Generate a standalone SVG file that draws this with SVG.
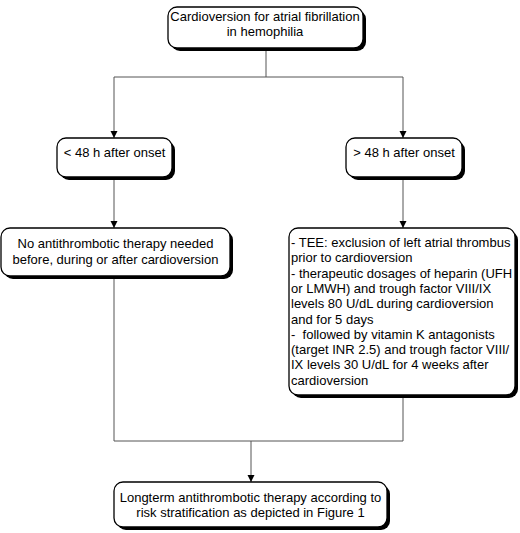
<svg xmlns="http://www.w3.org/2000/svg" width="520" height="533" viewBox="0 0 520 533">
<defs>
<style>
.box{fill:#fff;stroke:#000;stroke-width:1.3}
.sh{fill:#000}
.t{font-family:"Liberation Sans",Arial,sans-serif;font-size:13px;fill:#000}
.c{text-anchor:middle}
.ln{fill:none;stroke:#555;stroke-width:1}
</style>
<marker id="ah" markerWidth="8" markerHeight="8" refX="4" refY="7" orient="auto" markerUnits="userSpaceOnUse" viewBox="0 0 8 8">
<path d="M0.5,0 L7.5,0 L4,7 Z" fill="#000" transform="rotate(-90 4 4)"/>
</marker>
<marker id="arr" markerWidth="8" markerHeight="8" refX="7" refY="4" orient="auto" markerUnits="userSpaceOnUse" viewBox="0 0 8 8">
<path d="M0,0.5 L7,4 L0,7.5 Z" fill="#000"/>
</marker>
</defs>
<rect width="520" height="533" fill="#fff"/>
<g id="connectors">
<path class="ln" d="M266,48 V77 H114 V138" marker-end="url(#arr)"/>
<path class="ln" d="M266,77 H403 V138" marker-end="url(#arr)"/>
<path class="ln" d="M114,177 V228" marker-end="url(#arr)"/>
<path class="ln" d="M403,177 V228" marker-end="url(#arr)"/>
<path class="ln" d="M114,276 V441 H403 V396"/>
<path class="ln" d="M251,441 V482" marker-end="url(#arr)"/>
</g>
<g id="n1">
<rect class="sh" x="171" y="10" width="195" height="41" rx="9"/>
<rect class="box" x="168" y="7" width="195" height="41" rx="9"/>
<text class="t c" x="265" y="21">Cardioversion for atrial fibrillation</text>
<text class="t c" x="265" y="36">in hemophilia</text>
</g>
<g id="n2">
<rect class="sh" x="60" y="141" width="115" height="39" rx="9"/>
<rect class="box" x="57" y="138" width="115" height="39" rx="9"/>
<text class="t c" x="114.5" y="157">&lt; 48 h after onset</text>
</g>
<g id="n3">
<rect class="sh" x="349" y="141" width="116" height="39" rx="9"/>
<rect class="box" x="346" y="138" width="116" height="39" rx="9"/>
<text class="t c" x="404" y="157">&gt; 48 h after onset</text>
</g>
<g id="n4">
<rect class="sh" x="4" y="231" width="229" height="48" rx="9"/>
<rect class="box" x="1" y="228" width="229" height="48" rx="9"/>
<text class="t c" x="115.5" y="248">No antithrombotic therapy needed</text>
<text class="t c" x="115.5" y="264">before, during or after cardioversion</text>
</g>
<g id="n5">
<rect class="sh" x="292" y="231" width="226" height="167" rx="9"/>
<rect class="box" x="289" y="228" width="226" height="167" rx="9"/>
<text class="t" x="291" y="247">- TEE: exclusion of left atrial thrombus</text>
<text class="t" x="291" y="262.3">prior to cardioversion</text>
<text class="t" x="291" y="277.6">- therapeutic dosages of heparin (UFH</text>
<text class="t" x="291" y="292.9">or LMWH) and trough factor VIII/IX</text>
<text class="t" x="291" y="308.2">levels 80 U/dL during cardioversion</text>
<text class="t" x="291" y="323.5">and for 5 days</text>
<text class="t" x="291" y="338.8" xml:space="preserve">-  followed by vitamin K antagonists</text>
<text class="t" x="291" y="354.1">(target INR 2.5) and trough factor VIII/</text>
<text class="t" x="291" y="369.4">IX levels 30 U/dL for 4 weeks after</text>
<text class="t" x="291" y="384.7">cardioversion</text>
</g>
<g id="n6">
<rect class="sh" x="117" y="485" width="273" height="45" rx="9"/>
<rect class="box" x="114" y="482" width="273" height="45" rx="9"/>
<text class="t c" x="250.5" y="502">Longterm antithrombotic therapy according to</text>
<text class="t c" x="250.5" y="517">risk stratification as depicted in Figure 1</text>
</g>
</svg>
